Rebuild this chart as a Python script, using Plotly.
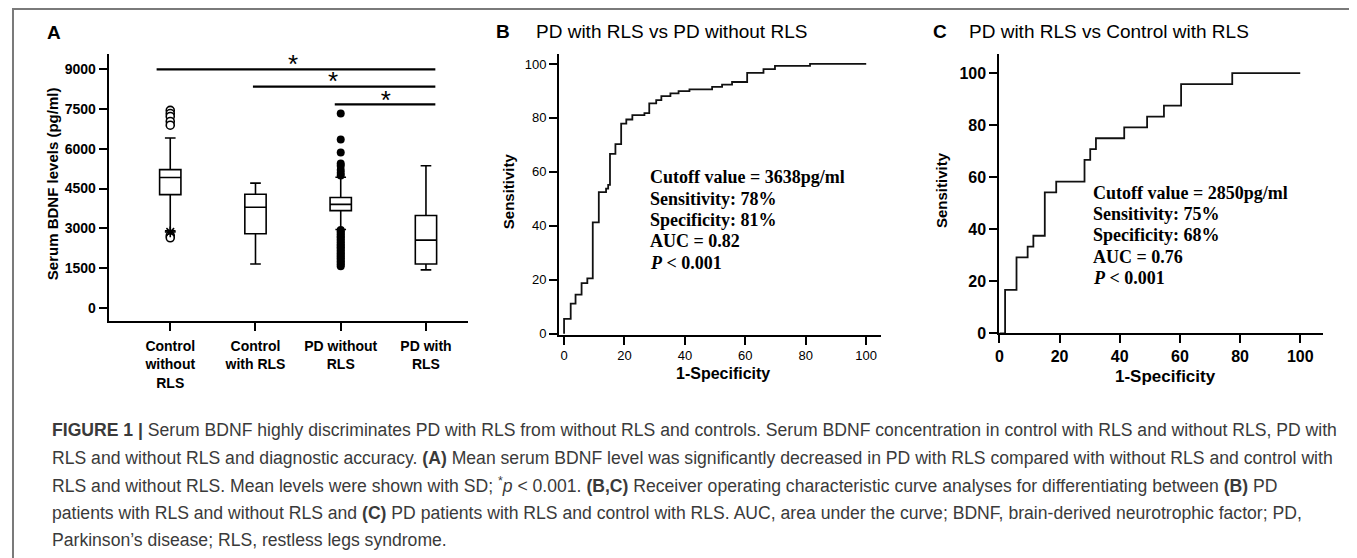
import plotly.graph_objects as go

# page body has an 8px margin, so the figure is placed at (8, 8) in the 1357x558 window
OFF = 8
W, H = 1357 - OFF, 558 - OFF


def px(x):
    return (x - OFF) / W


def py(y):
    return 1 - (y - OFF) / H


# ---------------- Panel A data (serum BDNF, pg/ml) ----------------
group_labels = ["Control<br>without<br>RLS", "Control<br>with RLS", "PD without<br>RLS", "PD with<br>RLS"]
group_pos = [0, 1, 2, 3]
box_lowerfence = [2900, 1650, 2950, 1430]
box_q1 = [4270, 2790, 3665, 1650]
box_median = [4915, 3790, 3900, 2550]
box_q3 = [5215, 4285, 4160, 3480]
box_upperfence = [6410, 4705, 4925, 5360]

ctrl_wo_outliers = [7450, 7330, 7220, 7030, 6890, 2720, 2640]
ctrl_wo_extremes = [2860]
pd_wo_outliers = [7330, 6350, 5860, 5440, 5360, 5200, 5090, 4990,
                  2930, 2880, 2820, 2760, 2700, 2650, 2580, 2520, 2460, 2400,
                  2340, 2280, 2230, 2160, 2100, 2050, 1980, 1920, 1870, 1800,
                  1740, 1690, 1630, 1570]

a_yticks = [0, 1500, 3000, 4500, 6000, 7500, 9000]

sig_x0 = [-0.16, 0.97, 1.93]
sig_x1 = [3.11, 3.11, 3.11]
sig_y = [9000, 8350, 7680]
star_x = [1.44, 1.91, 2.53]
star_y = [9100, 8450, 7765]

# ---------------- Panel B ROC ----------------
roc_b_fpr = [0, 0, 2.2, 3.8, 5.8, 7.7, 9.5, 11.5, 13.9, 14.6, 15.2, 17.0, 18.9, 20.6,
             22.6, 26.6, 28.2, 30.5, 32.2, 35.2, 37.9, 41.5, 49.0, 52.3, 55.6, 60.6,
             66.0, 69.8, 81.4, 100]
roc_b_tpr = [0, 5.5, 11.2, 14.5, 18.8, 20.5, 41.3, 52.5, 53.8, 55.2, 66.7, 70.3, 77.9, 79.4,
             81.0, 81.8, 85.4, 86.6, 88.1, 89.1, 89.9, 90.6, 91.5, 92.3, 93.3, 96.7,
             98.1, 99.3, 100, 100]
b_stats = ["Cutoff value = 3638pg/ml", "Sensitivity: 78%", "Specificity: 81%",
           "AUC = 0.82", "<i>P</i> &lt; 0.001"]

# ---------------- Panel C ROC ----------------
roc_c_fpr = [0, 1.9, 5.7, 9.4, 11.3, 15.1, 18.9, 28.3, 30.2, 32.1, 41.5, 49.1, 54.7,
             60.4, 77.4, 100]
roc_c_tpr = [0, 16.7, 29.2, 33.3, 37.5, 54.2, 58.3, 66.7, 70.8, 75.0, 79.2, 83.3, 87.5,
             95.8, 100, 100]
c_stats = ["Cutoff value = 2850pg/ml", "Sensitivity: 75%", "Specificity: 68%",
           "AUC = 0.76", "<i>P</i> &lt; 0.001"]

roc_ticks = [0, 20, 40, 60, 80, 100]

caption_lines = [
    "<b>FIGURE 1 |</b> Serum BDNF highly discriminates PD with RLS from without RLS and controls. Serum BDNF concentration in control with RLS and without RLS, PD with",
    "RLS and without RLS and diagnostic accuracy. <b>(A)</b> Mean serum BDNF level was significantly decreased in PD with RLS compared with without RLS and control with",
    "RLS and without RLS. Mean levels were shown with SD; <sup>*</sup><i>p</i> &lt; 0.001. <b>(B,C)</b> Receiver operating characteristic curve analyses for differentiating between <b>(B)</b> PD",
    "patients with RLS and without RLS and <b>(C)</b> PD patients with RLS and control with RLS. AUC, area under the curve; BDNF, brain-derived neurotrophic factor; PD,",
    "Parkinson’s disease; RLS, restless legs syndrome.",
]

SANS = "Liberation Sans, Arial, sans-serif"
SERIF = "Liberation Serif, Times New Roman, serif"

fig = go.Figure()

# ---- Panel A boxes ----
for i in range(len(group_pos)):
    fig.add_trace(go.Box(
        x=[group_pos[i]], q1=[box_q1[i]], median=[box_median[i]], q3=[box_q3[i]],
        lowerfence=[box_lowerfence[i]], upperfence=[box_upperfence[i]],
        orientation="v", width=0.25, whiskerwidth=0.5, boxpoints=False,
        fillcolor="white", line=dict(color="black", width=1.6),
        xaxis="x", yaxis="y", showlegend=False, hoverinfo="skip"))

fig.add_trace(go.Scatter(
    x=[group_pos[0]] * len(ctrl_wo_outliers), y=ctrl_wo_outliers, mode="markers",
    marker=dict(symbol="circle", size=8, color="white", line=dict(color="black", width=1.6)),
    xaxis="x", yaxis="y", showlegend=False, hoverinfo="skip"))
fig.add_trace(go.Scatter(
    x=[group_pos[0]] * len(ctrl_wo_extremes), y=ctrl_wo_extremes, mode="markers",
    marker=dict(symbol="asterisk-open", size=9, color="black", line=dict(color="black", width=1.6)),
    xaxis="x", yaxis="y", showlegend=False, hoverinfo="skip"))
fig.add_trace(go.Scatter(
    x=[group_pos[2]] * len(pd_wo_outliers), y=pd_wo_outliers, mode="markers",
    marker=dict(symbol="circle", size=8, color="black"),
    xaxis="x", yaxis="y", showlegend=False, hoverinfo="skip"))

for i in range(len(sig_y)):
    fig.add_trace(go.Scatter(
        x=[sig_x0[i], sig_x1[i]], y=[sig_y[i], sig_y[i]], mode="lines",
        line=dict(color="black", width=2.2), xaxis="x", yaxis="y",
        showlegend=False, hoverinfo="skip"))
fig.add_trace(go.Scatter(
    x=star_x, y=star_y, mode="text", text=["*"] * len(star_x),
    textposition="middle center", textfont=dict(family=SANS, size=26, color="black"),
    xaxis="x", yaxis="y", showlegend=False, hoverinfo="skip"))

# ---- ROC curves ----
fig.add_trace(go.Scatter(
    x=roc_b_fpr, y=roc_b_tpr, mode="lines", line=dict(color="#111111", width=1.8, shape="hv"),
    xaxis="x2", yaxis="y2", showlegend=False, hoverinfo="skip"))
fig.add_trace(go.Scatter(
    x=roc_c_fpr, y=roc_c_tpr, mode="lines", line=dict(color="#111111", width=1.8, shape="hv"),
    xaxis="x3", yaxis="y3", showlegend=False, hoverinfo="skip"))

axis_common = dict(showline=True, linecolor="black", linewidth=2, ticks="outside",
                   ticklen=8, tickwidth=2, tickcolor="black", showgrid=False,
                   zeroline=False, fixedrange=True)

fig.update_layout(
    width=W, height=H, margin=dict(l=0, r=0, t=0, b=0),
    paper_bgcolor="white", plot_bgcolor="white", showlegend=False,
    xaxis=dict(domain=[px(105), px(465)], anchor="y", range=[-0.722, 3.489],
               tickmode="array", tickvals=group_pos, ticktext=group_labels,
               ticklabelstandoff=3,
               tickfont=dict(family=SANS, size=14, color="black", weight="bold"),
               **axis_common),
    yaxis=dict(domain=[py(326.7), py(55)], anchor="x", range=[-520, 9570],
               tickmode="array", tickvals=a_yticks, ticktext=[str(v) for v in a_yticks],
               tickfont=dict(family=SANS, size=14, color="black", weight="bold"),
               **axis_common),
    xaxis2=dict(domain=[px(556.7), px(879.3)], anchor="y2", range=[-1.65, 104.8],
                tickmode="array", tickvals=roc_ticks,
                tickfont=dict(family=SANS, size=13, color="black"), **axis_common),
    yaxis2=dict(domain=[py(340), py(55)], anchor="x2", range=[-0.3, 103.6],
                tickmode="array", tickvals=roc_ticks,
                tickfont=dict(family=SANS, size=13, color="black"), **axis_common),
    xaxis3=dict(domain=[px(998.3), px(1322.7)], anchor="y3", range=[0, 107.5],
                tickmode="array", tickvals=roc_ticks,
                tickfont=dict(family=SANS, size=16, color="black", weight="bold"), **axis_common),
    yaxis3=dict(domain=[py(338.7), py(55)], anchor="x3", range=[0, 107.3],
                tickmode="array", tickvals=roc_ticks,
                tickfont=dict(family=SANS, size=16, color="black", weight="bold"), **axis_common),
)

ann = []


def add_text(text, x, y, size, family=SANS, bold=False, xanchor="center", angle=0, color="black"):
    ann.append(dict(text=("<b>%s</b>" % text) if bold else text, x=px(x), y=py(y),
                    xref="paper", yref="paper", showarrow=False, xanchor=xanchor,
                    yanchor="middle", textangle=angle, borderpad=0,
                    font=dict(family=family, size=size, color=color)))


# panel letters and titles
add_text("A", 50, 33, 19, bold=True)
add_text("B", 500, 31.7, 19, bold=True)
add_text("C", 939, 31.7, 19, bold=True)
add_text("PD with RLS vs PD without RLS", 532.7, 31.7, 19, xanchor="left")
add_text("PD with RLS vs Control with RLS", 966.7, 31.7, 19, xanchor="left")

# axis titles
add_text("Serum BDNF levels (pg/ml)", 48.5, 186.7, 15, bold=True, angle=-90)
add_text("Sensitivity", 506.7, 194, 15, bold=True, angle=-90)
add_text("Sensitivity", 940.8, 193, 15, bold=True, angle=-90)
add_text("1-Specificity", 721.3, 380, 16, bold=True)
add_text("1-Specificity", 1165.3, 382.3, 17, bold=True)

# ROC statistics
for i, line in enumerate(b_stats):
    add_text(line, 647.3, 180 + 21.7 * i, 18, family=SERIF, bold=True, xanchor="left")
for i, line in enumerate(c_stats):
    add_text(line, 1091.7, 196 + 21.6 * i, 18, family=SERIF, bold=True, xanchor="left")

# caption
for i, line in enumerate(caption_lines):
    add_text(line, 47, 437.4 + 27.9 * i, 17.6, xanchor="left", color="#3a3a3a")

fig.update_layout(annotations=ann)

# frame around the figure
fig.add_shape(type="rect", xref="paper", yref="paper", x0=px(9), x1=px(1353.6),
              y0=-0.2, y1=py(9), line=dict(color="#7a7a7a", width=2), layer="below")

fig.write_html("out.html")
